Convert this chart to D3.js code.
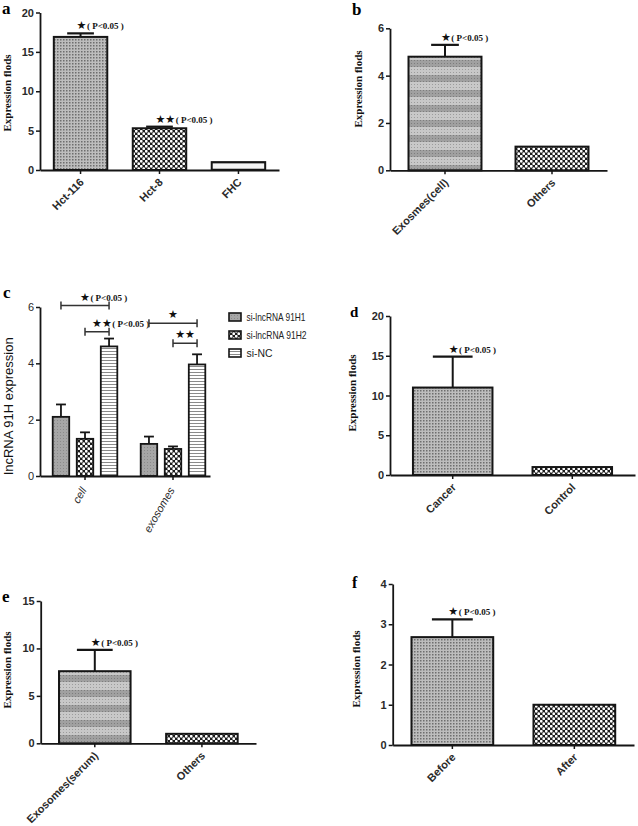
<!DOCTYPE html>
<html><head><meta charset="utf-8">
<script src="https://cdn.jsdelivr.net/npm/d3@7"></script>
<style>body{margin:0;background:#fff} svg{display:block}</style>
</head><body>
<svg id="chart" width="638" height="826"></svg>
<script>
// ---------------- DATA ----------------
const aCategories = ["Hct-116", "Hct-8", "FHC"];
const aValues = [16.9, 5.3, 1.0];
const aErrors = [0.45, 0.2, 0];
const aStars = ["★", "★★", ""];
const aTicks = [0, 5, 10, 15, 20];

const bCategories = ["Exosmes(cell)", "Others"];
const bValues = [4.8, 1.0];
const bErrors = [0.5, 0];
const bStars = ["★", ""];
const bTicks = [0, 2, 4, 6];

const cGroups = ["cell", "exosomes"];
const cSeries = ["si-lncRNA 91H1", "si-lncRNA 91H2", "si-NC"];
const cValues91H1 = [2.1, 1.14];
const cValues91H2 = [1.32, 0.96];
const cValuesNC = [4.6, 3.96];
const cErrors91H1 = [0.44, 0.26];
const cErrors91H2 = [0.23, 0.09];
const cErrorsNC = [0.28, 0.36];
const cTicks = [0, 2, 4, 6];
// significance brackets: [group, series from, series to, height, stars, with p text]
const cBrackets = [
  ["cell", "si-lncRNA 91H1", "si-NC", 6.05, "★", true],
  ["cell", "si-lncRNA 91H2", "si-NC", 5.12, "★★", true],
  ["exosomes", "si-lncRNA 91H1", "si-NC", 5.42, "★", false],
  ["exosomes", "si-lncRNA 91H2", "si-NC", 4.71, "★★", false]
];

const dCategories = ["Cancer", "Control"];
const dValues = [11.0, 1.0];
const dErrors = [3.9, 0];
const dStars = ["★", ""];
const dTicks = [0, 5, 10, 15, 20];

const eCategories = ["Exosomes(serum)", "Others"];
const eValues = [7.6, 1.0];
const eErrors = [2.25, 0];
const eStars = ["★", ""];
const eTicks = [0, 5, 10, 15];

const fCategories = ["Before", "After"];
const fValues = [2.68, 1.0];
const fErrors = [0.44, 0];
const fStars = ["★", ""];
const fTicks = [0, 1, 2, 3, 4];

const pText = "( P<0.05 )";
const yTitle = "Expression flods";
const cYTitle = "lncRNA 91H expression";

// ---------------- SETUP ----------------
const SANS = "Arial, 'Liberation Sans', Arimo, Helvetica, sans-serif";
const SERIF = "'Times New Roman', 'Liberation Serif', Tinos, serif";
const svg = d3.select("#chart");
svg.append("rect").attr("width", 638).attr("height", 826).attr("fill", "#fff");
const defs = svg.append("defs");

function pat(id, w, h) {
  return defs.append("pattern").attr("id", id).attr("patternUnits", "userSpaceOnUse")
    .attr("width", w).attr("height", h);
}
// fine grey dots
let p = pat("pDots", 3, 3);
p.append("rect").attr("width", 3).attr("height", 3).attr("fill", "#bdbdbd");
p.append("rect").attr("width", 1.5).attr("height", 1.5).attr("fill", "#6e6e6e");
// checker (white dots on black)
p = pat("pCheck", 5, 5);
p.append("rect").attr("width", 5).attr("height", 5).attr("fill", "#1c1c1c");
p.append("circle").attr("cx", 1.25).attr("cy", 1.25).attr("r", 1.4).attr("fill", "#fff");
p.append("circle").attr("cx", 3.75).attr("cy", 3.75).attr("r", 1.4).attr("fill", "#fff");
// horizontal thin stripes
p = pat("pStripe", 4, 3);
p.append("rect").attr("width", 4).attr("height", 3).attr("fill", "#fff");
p.append("rect").attr("width", 4).attr("height", 1).attr("fill", "#8a8a8a");
// light stripes (FHC)
p = pat("pLight", 4, 6);
p.append("rect").attr("width", 4).attr("height", 6).attr("fill", "#f4f4f4");
p.append("rect").attr("width", 4).attr("height", 2).attr("fill", "#b8b8b8");
// grey bands
p = pat("pBands", 3, 15);
p.append("rect").attr("width", 3).attr("height", 15).attr("fill", "#c8c8c8");
p.append("rect").attr("width", 3).attr("height", 7).attr("fill", "#a0a0a0");
for (let k = 0; k < 5; k++) p.append("rect").attr("x", 0).attr("y", k * 3).attr("width", 1).attr("height", 1).attr("fill", "rgba(0,0,0,0.22)");
// medium grey
p = pat("pGray", 3, 3);
p.append("rect").attr("width", 3).attr("height", 3).attr("fill", "#a6a6a6");
p.append("rect").attr("width", 1).attr("height", 1).attr("fill", "#8a8a8a");

const INK = "#151515";
const intFmt = d3.format("d");

function panelLetter(txt, x, y, size) {
  svg.append("text").attr("x", x).attr("y", y).text(txt)
    .attr("font-family", SERIF).attr("font-weight", "bold")
    .attr("font-size", size).attr("fill", "#000");
}

function yLabel(txt, x, y, opts) {
  svg.append("text").attr("transform", `translate(${x},${y}) rotate(-90)`)
    .attr("text-anchor", "middle").text(txt)
    .attr("font-family", opts.family).attr("font-weight", opts.weight)
    .attr("font-size", opts.size).attr("fill", "#111");
}

function starText(g, x, y, stars, withP, anchor) {
  const t = g.append("text").attr("x", x).attr("y", y).attr("text-anchor", anchor || "start")
    .attr("fill", "#111");
  t.append("tspan").text(stars).attr("font-family", "'DejaVu Sans', sans-serif").attr("font-size", 11);
  if (withP) t.append("tspan").text(pText).attr("font-family", SERIF)
    .attr("font-weight", "bold").attr("font-size", 9).attr("dx", 0.5);
}

function styleAxis(ax, bold) {
  ax.attr("font-family", SANS);
  ax.select(".domain").attr("stroke", INK).attr("stroke-width", 1.8);
  ax.selectAll(".tick line").attr("stroke", INK).attr("stroke-width", 1.5);
  ax.selectAll(".tick text").attr("font-family", SANS)
    .attr("font-weight", bold ? "bold" : "normal").attr("font-size", 11).attr("fill", "#2a2a2a");
}

function simplePanel(cfg) {
  const g = svg.append("g");
  const y = d3.scaleLinear().domain([0, d3.max(cfg.ticks)]).range([cfg.y0, cfg.y1]);
  const x = d3.scaleBand().domain(cfg.categories).range([cfg.x0, cfg.x1])
    .paddingInner(cfg.pi).paddingOuter(cfg.po);
  const bw = x.bandwidth();
  const rows = cfg.categories.map((c, i) => ({ c, v: cfg.values[i], e: cfg.errors[i], s: cfg.stars[i], f: cfg.fills[i] }));

  rows.filter(r => r.e > 0).forEach(r => {
    const cx = x(r.c) + bw / 2;
    g.append("line").attr("x1", cx).attr("x2", cx).attr("y1", y(r.v)).attr("y2", y(r.v + r.e))
      .attr("stroke", INK).attr("stroke-width", 2);
    g.append("line").attr("x1", cx - bw * cfg.cap / 2).attr("x2", cx + bw * cfg.cap / 2)
      .attr("y1", y(r.v + r.e)).attr("y2", y(r.v + r.e)).attr("stroke", INK).attr("stroke-width", 2.2);
  });
  g.selectAll("rect.bar").data(rows).join("rect").attr("class", "bar")
    .attr("x", d => x(d.c)).attr("y", d => y(d.v)).attr("width", bw)
    .attr("height", d => y(0) - y(d.v)).attr("fill", d => `url(#${d.f})`)
    .attr("stroke", INK).attr("stroke-width", 2);
  rows.filter(r => r.s).forEach(r => {
    starText(g, x(r.c) + bw / 2 - 4, y(r.v + r.e) - 4, r.s, true);
  });

  const ya = g.append("g").attr("transform", `translate(${cfg.x0},0)`)
    .call(d3.axisLeft(y).tickValues(cfg.ticks).tickFormat(intFmt).tickSize(4).tickSizeOuter(0).tickPadding(2));
  styleAxis(ya, true);
  const xa = g.append("g").attr("transform", `translate(0,${cfg.y0})`)
    .call(d3.axisBottom(x).tickSize(4).tickSizeOuter(0));
  styleAxis(xa, true);
  xa.selectAll(".tick text").attr("text-anchor", "end").attr("dy", null).attr("y", null)
    .attr("transform", "translate(4,13) rotate(-45)");
}

// ---------------- PANELS ----------------
panelLetter("a", 2, 14, 17);
yLabel(yTitle, 10.5, 93, { family: SERIF, weight: "bold", size: 11 });
simplePanel({ categories: aCategories, values: aValues, errors: aErrors, stars: aStars, ticks: aTicks,
  fills: ["pDots", "pCheck", "pLight"], x0: 40, x1: 279, y0: 170, y1: 12.5, pi: 0.323, po: 0.175, cap: 0.5 });

panelLetter("b", 352, 15, 17);
yLabel(yTitle, 361.5, 89, { family: SERIF, weight: "bold", size: 11 });
simplePanel({ categories: bCategories, values: bValues, errors: bErrors, stars: bStars, ticks: bTicks,
  fills: ["pBands", "pCheck"], x0: 390, x1: 607, y0: 170.3, y1: 28.3, pi: 0.318, po: 0.173, cap: 0.38 });

panelLetter("d", 350, 317, 15);
yLabel(yTitle, 355.5, 393, { family: SERIF, weight: "bold", size: 11 });
simplePanel({ categories: dCategories, values: dValues, errors: dErrors, stars: dStars, ticks: dTicks,
  fills: ["pDots", "pCheck"], x0: 390, x1: 635, y0: 475, y1: 316, pi: 0.335, po: 0.192, cap: 0.5 });

panelLetter("e", 2, 602, 17);
yLabel(yTitle, 10.5, 670, { family: SERIF, weight: "bold", size: 11 });
simplePanel({ categories: eCategories, values: eValues, errors: eErrors, stars: eStars, ticks: eTicks,
  fills: ["pBands", "pCheck"], x0: 40.7, x1: 256, y0: 743.3, y1: 601, pi: 0.332, po: 0.171, cap: 0.5 });

panelLetter("f", 352, 588, 16);
yLabel(yTitle, 359.5, 669, { family: SERIF, weight: "bold", size: 11 });
simplePanel({ categories: fCategories, values: fValues, errors: fErrors, stars: fStars, ticks: fTicks,
  fills: ["pDots", "pCheck"], x0: 392.7, x1: 634, y0: 745, y1: 584, pi: 0.33, po: 0.154, cap: 0.5 });

// ---------------- PANEL C (grouped) ----------------
(function () {
  panelLetter("c", 3, 298, 17);
  yLabel(cYTitle, 12.5, 406, { family: SANS, weight: "normal", size: 13 });
  const g = svg.append("g");
  const y = d3.scaleLinear().domain([0, d3.max(cTicks)]).range([476, 307]);
  const x0 = d3.scaleBand().domain(cGroups).range([40, 210]).paddingInner(0.266).paddingOuter(0.099).align(0.73);
  const x1 = d3.scaleBand().domain(cSeries).range([0, x0.bandwidth()]).paddingInner(0.314);
  const vals = { "si-lncRNA 91H1": cValues91H1, "si-lncRNA 91H2": cValues91H2, "si-NC": cValuesNC };
  const errs = { "si-lncRNA 91H1": cErrors91H1, "si-lncRNA 91H2": cErrors91H2, "si-NC": cErrorsNC };
  const fills = { "si-lncRNA 91H1": "pGray", "si-lncRNA 91H2": "pCheck", "si-NC": "pStripe" };
  const bw = x1.bandwidth();
  const rows = [];
  cGroups.forEach((grp, gi) => cSeries.forEach(s => rows.push({ grp, s, v: vals[s][gi], e: errs[s][gi] })));
  rows.forEach(r => {
    const cx = x0(r.grp) + x1(r.s) + bw / 2;
    g.append("line").attr("x1", cx).attr("x2", cx).attr("y1", y(r.v)).attr("y2", y(r.v + r.e))
      .attr("stroke", INK).attr("stroke-width", 1.8);
    g.append("line").attr("x1", cx - bw * 0.3).attr("x2", cx + bw * 0.3)
      .attr("y1", y(r.v + r.e)).attr("y2", y(r.v + r.e)).attr("stroke", INK).attr("stroke-width", 1.8);
  });
  g.selectAll("rect.bar").data(rows).join("rect")
    .attr("x", d => x0(d.grp) + x1(d.s)).attr("y", d => y(d.v)).attr("width", bw)
    .attr("height", d => y(0) - y(d.v)).attr("fill", d => `url(#${fills[d.s]})`)
    .attr("stroke", INK).attr("stroke-width", 1.8);

  cBrackets.forEach(([grp, s1, s2, h, stars, withP]) => {
    const xa = x0(grp) + x1(s1) + bw / 2, xb = x0(grp) + x1(s2) + bw / 2, yy = y(h);
    g.append("path").attr("d", `M${xa},${yy - 4}V${yy + 4}M${xa},${yy}H${xb}M${xb},${yy - 4}V${yy + 4}`)
      .attr("stroke", "#333").attr("stroke-width", 1.5).attr("fill", "none");
    const mid = (xa + xb) / 2;
    if (withP) starText(g, mid - 5, yy - 5, stars, true, "start");
    else starText(g, mid, yy - 5, stars, false, "middle");
  });

  const ya = g.append("g").attr("transform", "translate(40,0)")
    .call(d3.axisLeft(y).tickValues(cTicks).tickFormat(intFmt).tickSize(4).tickSizeOuter(0).tickPadding(2));
  styleAxis(ya, false);
  const xa = g.append("g").attr("transform", "translate(0,476)")
    .call(d3.axisBottom(x0).tickSize(4).tickSizeOuter(0));
  styleAxis(xa, false);
  xa.selectAll(".tick text").attr("text-anchor", "end").attr("dy", null).attr("y", null)
    .attr("font-style", "italic").attr("transform", "translate(2,14) rotate(-60)");

  // legend
  const legendWidths = [59, 60, 26];
  const lg = g.append("g");
  cSeries.forEach((s, i) => {
    const cy = 317 + i * 18;
    lg.append("rect").attr("x", 229).attr("y", cy - 4).attr("width", 12).attr("height", 8)
      .attr("fill", `url(#${fills[s]})`).attr("stroke", INK).attr("stroke-width", 1.6);
    lg.append("text").attr("x", 246.5).attr("y", cy + 4).text(s)
      .attr("font-family", SANS).attr("font-size", 11)
      .attr("textLength", legendWidths[i]).attr("lengthAdjust", "spacingAndGlyphs").attr("fill", "#222");
  });
})();
</script>
</body></html>
